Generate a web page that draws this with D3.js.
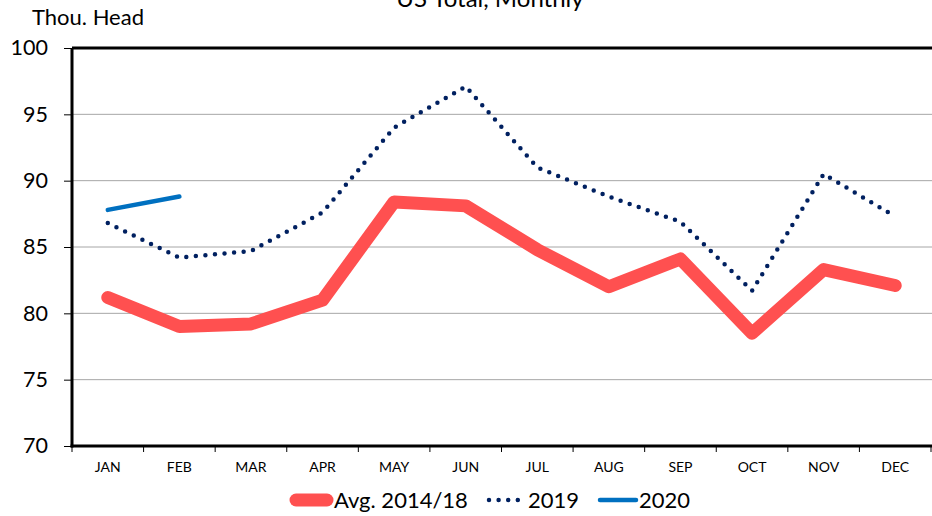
<!DOCTYPE html>
<html><head><meta charset="utf-8">
<script src="https://cdn.jsdelivr.net/npm/d3@7"></script>
<style>body{margin:0;background:#fff;} text{font-family:Lato,"Open Sans",sans-serif;fill:#000;}</style>
</head><body>
<svg id="c" width="932" height="516"></svg>
<script>
const months = ["JAN","FEB","MAR","APR","MAY","JUN","JUL","AUG","SEP","OCT","NOV","DEC"];
const avg1418 = [81.2, 79.0, 79.2, 81.0, 88.4, 88.1, 84.8, 82.0, 84.1, 78.5, 83.3, 82.1];
const y2019 = [86.8, 84.2, 84.7, 87.6, 94.0, 97.1, 91.0, 88.8, 86.9, 81.7, 90.5, 87.3];
const y2020 = [87.8, 88.8];
const yTicks = [70, 75, 80, 85, 90, 95, 100];
const title = "US Total, Monthly";
const yLabel = "Thou. Head";
const legendNames = ["Avg. 2014/18", "2019", "2020"];

const svg = d3.select("#c");
const L = 72, R = 931, T = 48, B = 446;
const x = d3.scaleBand().domain(months).range([L, R]);
const y = d3.scaleLinear().domain([70, 100]).range([B, T]);
const cx = m => x(m) + x.bandwidth() / 2;

// gridlines
svg.append("g").selectAll("line").data(yTicks.filter(t => t > 70 && t < 100)).join("line")
  .attr("x1", L).attr("x2", 932).attr("y1", d => y(d)).attr("y2", d => y(d))
  .attr("stroke", "#a6a6a6").attr("stroke-width", 1);
// top border at 100
svg.append("line").attr("x1", L).attr("x2", 932).attr("y1", y(100)).attr("y2", y(100))
  .attr("stroke", "#000").attr("stroke-width", 3);

// y axis
const ya = svg.append("g").attr("transform", `translate(${L},0)`)
  .call(d3.axisLeft(y).tickValues(yTicks).tickSize(8).tickPadding(16).tickFormat(d3.format("d")));
ya.select(".domain").remove();
ya.selectAll(".tick line").attr("stroke", "#000").attr("stroke-width", 1);
ya.selectAll(".tick text").attr("font-size", 21.5).attr("font-family", "Lato, sans-serif").attr("fill", "#000");
svg.append("line").attr("x1", L).attr("x2", L).attr("y1", T).attr("y2", B + 1.5)
  .attr("stroke", "#000").attr("stroke-width", 3);

// x axis
const xa = svg.append("g").attr("transform", `translate(0,${B})`)
  .call(d3.axisBottom(x).tickSize(0).tickPadding(16));
xa.select(".domain").remove();
xa.selectAll(".tick text").attr("font-size", 14).attr("font-family", "Lato, sans-serif").attr("fill", "#000");
svg.append("g").selectAll("line").data(months.concat(["_end"])).join("line")
  .attr("x1", (d, i) => i < 12 ? x(d) : R).attr("x2", (d, i) => i < 12 ? x(d) : R)
  .attr("y1", B).attr("y2", B + 6).attr("stroke", "#000").attr("stroke-width", 1);
svg.append("line").attr("x1", L - 1.5).attr("x2", 932).attr("y1", B).attr("y2", B)
  .attr("stroke", "#000").attr("stroke-width", 3);

const line = d3.line().x((d, i) => cx(months[i])).y(d => y(d));

svg.append("path").attr("d", line(avg1418)).attr("fill", "none")
  .attr("stroke", "#ff5050").attr("stroke-width", 13)
  .attr("stroke-linecap", "round").attr("stroke-linejoin", "round");
svg.append("path").attr("d", line(y2019)).attr("fill", "none")
  .attr("stroke", "#002060").attr("stroke-width", 4.5)
  .attr("stroke-dasharray", "0 9.6").attr("stroke-linecap", "round");
svg.append("path").attr("d", line(y2020)).attr("fill", "none")
  .attr("stroke", "#0070c0").attr("stroke-width", 4.5)
  .attr("stroke-linecap", "round");

// texts
svg.append("text").attr("x", 490).attr("y", 7).attr("text-anchor", "middle")
  .attr("font-size", 24).text(title);
svg.append("text").attr("x", 32).attr("y", 25).attr("font-size", 22).text(yLabel);

// legend
const lg = svg.append("g");
const ly = 500;
lg.append("line").attr("x1", 296).attr("x2", 327).attr("y1", ly).attr("y2", ly)
  .attr("stroke", "#ff5050").attr("stroke-width", 13).attr("stroke-linecap", "round");
lg.append("text").attr("x", 334).attr("y", ly + 8).attr("font-size", 22).text(legendNames[0]);
lg.append("line").attr("x1", 489).attr("x2", 525).attr("y1", ly).attr("y2", ly)
  .attr("stroke", "#002060").attr("stroke-width", 4.5).attr("stroke-dasharray", "0 9.6").attr("stroke-linecap", "round");
lg.append("text").attr("x", 528).attr("y", ly + 8).attr("font-size", 22).text(legendNames[1]);
lg.append("line").attr("x1", 600).attr("x2", 636).attr("y1", ly).attr("y2", ly)
  .attr("stroke", "#0070c0").attr("stroke-width", 4.5).attr("stroke-linecap", "round");
lg.append("text").attr("x", 639).attr("y", ly + 8).attr("font-size", 22).text(legendNames[2]);
</script>
</body></html>
